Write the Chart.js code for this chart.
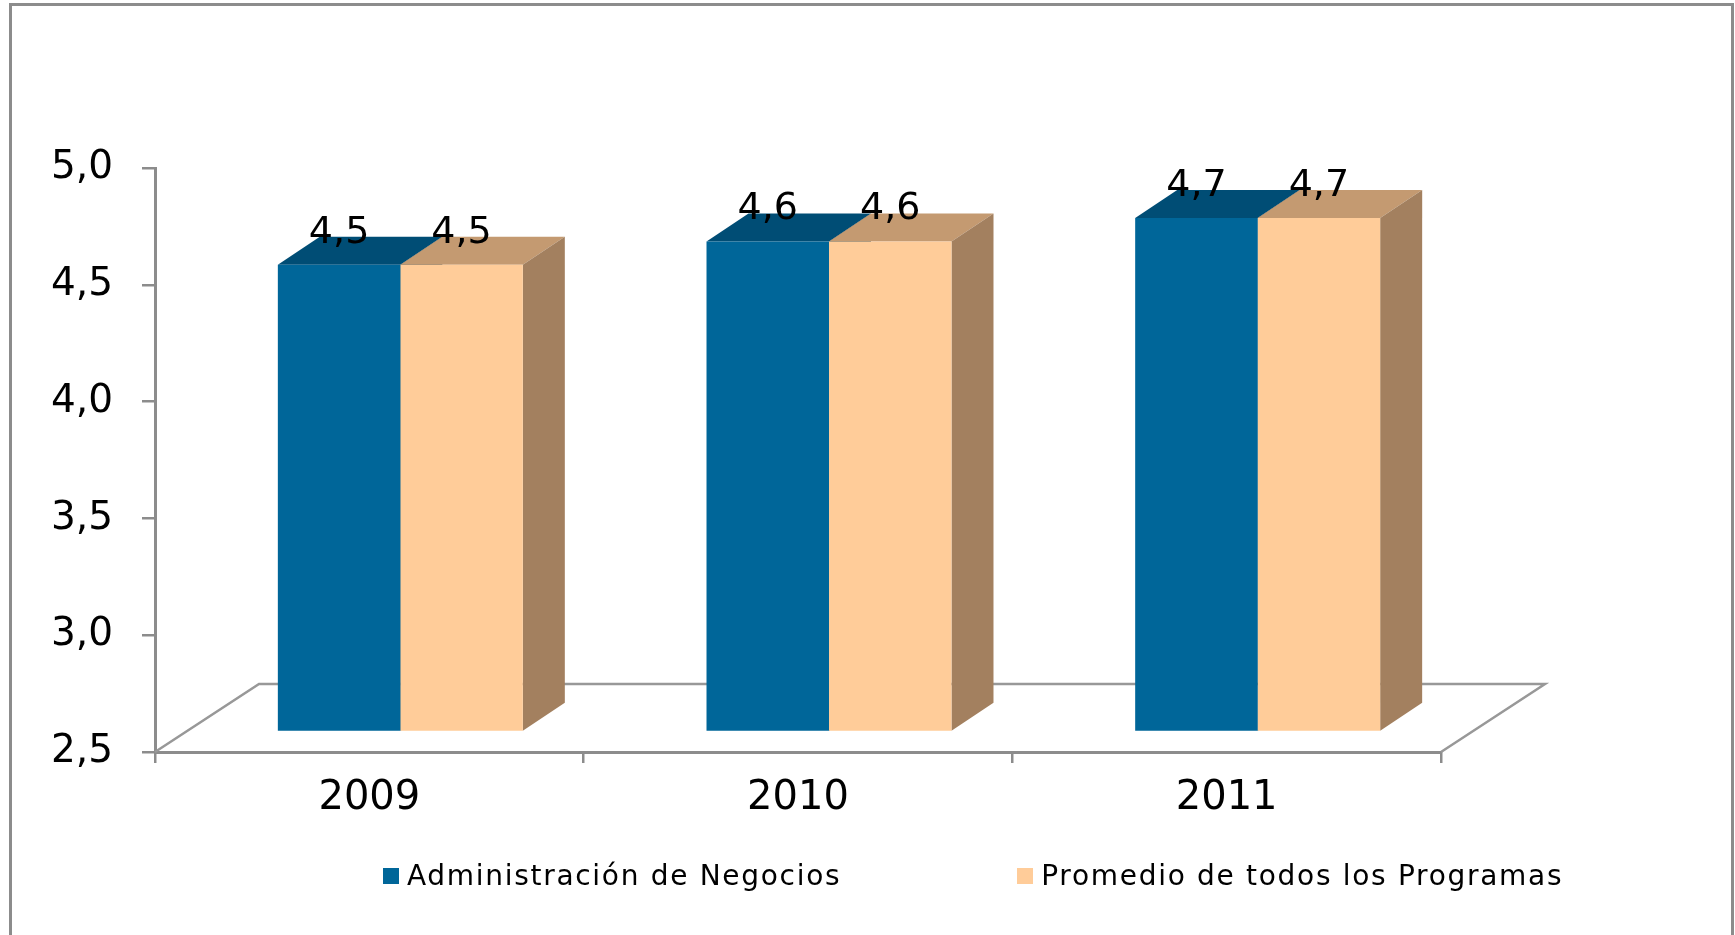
<!DOCTYPE html>
<html lang="es">
<head>
<meta charset="utf-8">
<title>Administración de Negocios vs Promedio de todos los Programas</title>
<script src="https://cdn.jsdelivr.net/npm/chart.js@4.4.1/dist/chart.umd.min.js"></script>
<style>
  html, body { margin: 0; padding: 0; background: #fff; overflow: hidden; }
  .marco {
    position: absolute; left: 9px; top: 3px; width: 1719px; height: 960px;
    border: 3px solid #8c8c8c; border-bottom: none;
  }
  #grafico { position: absolute; left: 0; top: 0; }
  #leyenda {
    position: absolute; left: 383px; top: 858px;
    display: flex; gap: 176px;
    font-family: 'DejaVu Sans', sans-serif; font-size: 28px;
    letter-spacing: 1.7px; line-height: 36px; color: #000;
  }
  #leyenda .item { display: flex; align-items: center; white-space: nowrap; }
  #leyenda .caja { width: 16px; height: 16px; margin-right: 8px; }
</style>
</head>
<body>
<div class="marco"></div>
<canvas id="grafico" width="1735" height="935"></canvas>
<div id="leyenda"></div>

<script>
 /*Datos*/

 const anios = ['2009', '2010', '2011'];
 const administracion = [4.5, 4.6, 4.7];
 const promedioProgramas = [4.5, 4.6, 4.7];
 const ejeMin = 2.5;
 const ejeMax = 5.0;
 const ejePaso = 0.5;

 /*Datos*/

 const fmt = v => v.toFixed(1).replace('.', ',');
 const gris = '#8c8c8c';
 const fuente = '"DejaVu Sans", sans-serif';

 // profundidad del efecto 3D
 const barraProf = { dx: 42, dy: 28 };   // grosor de cada barra
 const barraDesp = { dx: 31, dy: 20 };   // distancia de las barras al frente del piso
 const pisoProf = { dx: 104, dy: 68 };

 const efecto3d = {
     id: 'efecto3d',
     beforeDatasetsDraw(chart) {
         const { ctx, chartArea: a } = chart;
         // piso
         ctx.save();
         ctx.strokeStyle = '#989898';
         ctx.lineWidth = 2.5;
         ctx.beginPath();
         ctx.moveTo(a.left, a.bottom);
         ctx.lineTo(a.left + pisoProf.dx, a.bottom - pisoProf.dy);
         ctx.lineTo(a.right + pisoProf.dx, a.bottom - pisoProf.dy);
         ctx.lineTo(a.right, a.bottom);
         ctx.stroke();
         ctx.restore();

         // caras superior y lateral, antes de las caras frontales
         ctx.save();
         ctx.translate(barraDesp.dx, -barraDesp.dy);
         chart.data.datasets.forEach((ds, i) => {
             chart.getDatasetMeta(i).data.forEach(bar => {
                 const { x, y, base, width } = bar.getProps(['x', 'y', 'base', 'width'], true);
                 const l = x - width / 2, r = x + width / 2;
                 ctx.fillStyle = ds.colorSuperior;
                 ctx.beginPath();
                 ctx.moveTo(l, y);
                 ctx.lineTo(l + barraProf.dx, y - barraProf.dy);
                 ctx.lineTo(r + barraProf.dx, y - barraProf.dy);
                 ctx.lineTo(r, y);
                 ctx.closePath();
                 ctx.fill();
                 ctx.fillStyle = ds.colorLateral;
                 ctx.beginPath();
                 ctx.moveTo(r, y);
                 ctx.lineTo(r + barraProf.dx, y - barraProf.dy);
                 ctx.lineTo(r + barraProf.dx, base - barraProf.dy);
                 ctx.lineTo(r, base);
                 ctx.closePath();
                 ctx.fill();
             });
         });
         // el desplazamiento queda activo para las caras frontales
     },
     afterDatasetsDraw(chart) {
         const { ctx } = chart;
         // etiquetas de valor
         ctx.font = '38px ' + fuente;
         ctx.fillStyle = '#000';
         ctx.textAlign = 'center';
         ctx.textBaseline = 'alphabetic';
         chart.data.datasets.forEach((ds, i) => {
             chart.getDatasetMeta(i).data.forEach((bar, j) => {
                 const { x, y } = bar.getProps(['x', 'y'], true);
                 ctx.fillText(fmt(ds.data[j]), x, y - 22);
             });
         });
         ctx.restore();
     }
 };

 const ctx = document.getElementById('grafico').getContext('2d');
 Chart.defaults.font.family = fuente;
 Chart.defaults.color = '#000';

 const grafico = new Chart(ctx, {
     type: 'bar',
     data: {
         labels: anios,
         datasets: [{
             label: 'Administración de Negocios',
             data: administracion,
             backgroundColor: '#006699',
             colorSuperior: '#004d75',
             colorLateral: '#003f60',
             borderWidth: 0,
             base: ejeMin,
             clip: false
         }, {
             label: 'Promedio de todos los Programas',
             data: promedioProgramas,
             backgroundColor: '#ffcc99',
             colorSuperior: '#c49a71',
             colorLateral: '#a3805f',
             borderWidth: 0,
             base: ejeMin,
             clip: false
         }]
     },
     options: {
         responsive: false,
         animation: false,
         layout: {
             padding: { left: 0, top: 168, right: 294, bottom: 123 }
         },
         datasets: {
             bar: { categoryPercentage: 0.5715, barPercentage: 1.0 }
         },
         plugins: {
             legend: { display: false },
             tooltip: { enabled: false }
         },
         scales: {
             x: {
                 offset: true,
                 afterFit: s => { s.height = 60; },
                 grid: {
                     offset: true,
                     drawOnChartArea: false,
                     drawTicks: true,
                     tickLength: 11,
                     color: gris,
                     lineWidth: 2.5
                 },
                 border: { display: true, color: gris, width: 3 },
                 ticks: { font: { size: 40 }, padding: 12, maxRotation: 0 }
             },
             y: {
                 min: ejeMin,
                 max: ejeMax,
                 afterFit: s => { s.width = 155; },
                 grid: {
                     drawOnChartArea: false,
                     drawTicks: true,
                     tickLength: 13,
                     color: gris,
                     lineWidth: 2.5
                 },
                 border: { display: true, color: gris, width: 3 },
                 ticks: {
                     stepSize: ejePaso,
                     font: { size: 39 },
                     padding: 29,
                     callback: v => fmt(v)
                 }
             }
         }
     },
     plugins: [efecto3d]
 });

 // leyenda
 const leyenda = document.getElementById('leyenda');
 grafico.data.datasets.forEach(ds => {
     const item = document.createElement('div');
     item.className = 'item';
     const caja = document.createElement('span');
     caja.className = 'caja';
     caja.style.background = ds.backgroundColor;
     item.appendChild(caja);
     item.appendChild(document.createTextNode(ds.label));
     leyenda.appendChild(item);
 });
</script>
</body>
</html>
